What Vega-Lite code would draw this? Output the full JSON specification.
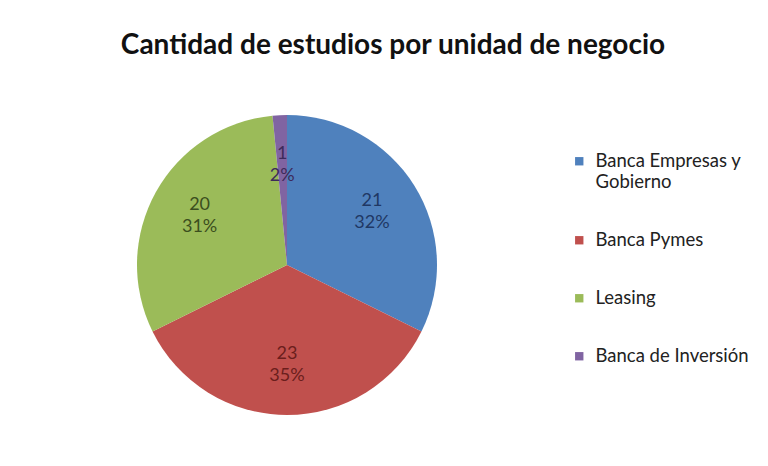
{
  "$schema": "https://vega.github.io/schema/vega-lite/v6.json",
  "width": 560,
  "height": 350,
  "autosize": {"type": "none"},
  "padding": {"left": 7, "top": 90, "right": 201, "bottom": 26},
  "background": "white",
  "config": {"view": {"stroke": null}, "font": "Lato"},
  "title": {
    "text": "Cantidad de estudios por unidad de negocio",
    "fontSize": 28,
    "fontWeight": "bold",
    "font": "Lato",
    "color": "#111111",
    "offset": 30,
    "anchor": "middle",
    "dx": 106
  },
  "data": {
    "values": [
      {"unidad": "Banca Empresas y Gobierno", "estudios": 21, "pct": "32%"},
      {"unidad": "Banca Pymes", "estudios": 23, "pct": "35%"},
      {"unidad": "Leasing", "estudios": 20, "pct": "31%"},
      {"unidad": "Banca de Inversión", "estudios": 1, "pct": "2%"}
    ]
  },
  "transform": [{"window": [{"op": "row_number", "as": "orden"}]}],
  "encoding": {
    "theta": {"field": "estudios", "type": "quantitative", "stack": true},
    "order": {"field": "orden", "type": "quantitative"}
  },
  "layer": [
    {
      "mark": {"type": "arc", "outerRadius": 150, "stroke": null},
      "encoding": {
        "color": {
          "field": "unidad",
          "type": "nominal",
          "scale": {
            "domain": ["Banca Empresas y Gobierno", "Banca Pymes", "Leasing", "Banca de Inversión"],
            "range": ["#4F81BD", "#C0504D", "#9BBB59", "#8064A2"]
          },
          "legend": {
            "title": null,
            "orient": "none",
            "legendX": 563,
            "legendY": 62,
            "symbolType": "square",
            "symbolSize": 70,
            "symbolStrokeWidth": 0,
            "labelFontSize": 18.5,
            "labelFont": "Lato",
            "labelColor": "#222222",
            "labelLimit": 300,
            "rowPadding": 39,
            "labelOffset": 7,
            "labelExpr": "datum.label == 'Banca Empresas y Gobierno' ? ['Banca Empresas y', 'Gobierno'] : datum.label",
            "encode": {"labels": {"update": {"lineHeight": {"value": 24}}}}
          }
        }
      }
    },
    {
      "mark": {"type": "text", "radius": 100, "dy": -11, "fontSize": 18, "font": "Lato"},
      "encoding": {
        "text": {"field": "estudios", "type": "quantitative"},
        "color": {
          "field": "unidad",
          "type": "nominal",
          "scale": {
            "domain": ["Banca Empresas y Gobierno", "Banca Pymes", "Leasing", "Banca de Inversión"],
            "range": ["#1F3864", "#6B1E1C", "#3B4E1E", "#3D2A5A"]
          },
          "legend": null
        }
      }
    },
    {
      "mark": {"type": "text", "radius": 100, "dy": 11, "fontSize": 18, "font": "Lato"},
      "encoding": {
        "text": {"field": "pct", "type": "nominal"},
        "color": {
          "field": "unidad",
          "type": "nominal",
          "scale": {
            "domain": ["Banca Empresas y Gobierno", "Banca Pymes", "Leasing", "Banca de Inversión"],
            "range": ["#1F3864", "#6B1E1C", "#3B4E1E", "#3D2A5A"]
          },
          "legend": null
        }
      }
    }
  ],
  "resolve": {"scale": {"color": "independent"}}
}
